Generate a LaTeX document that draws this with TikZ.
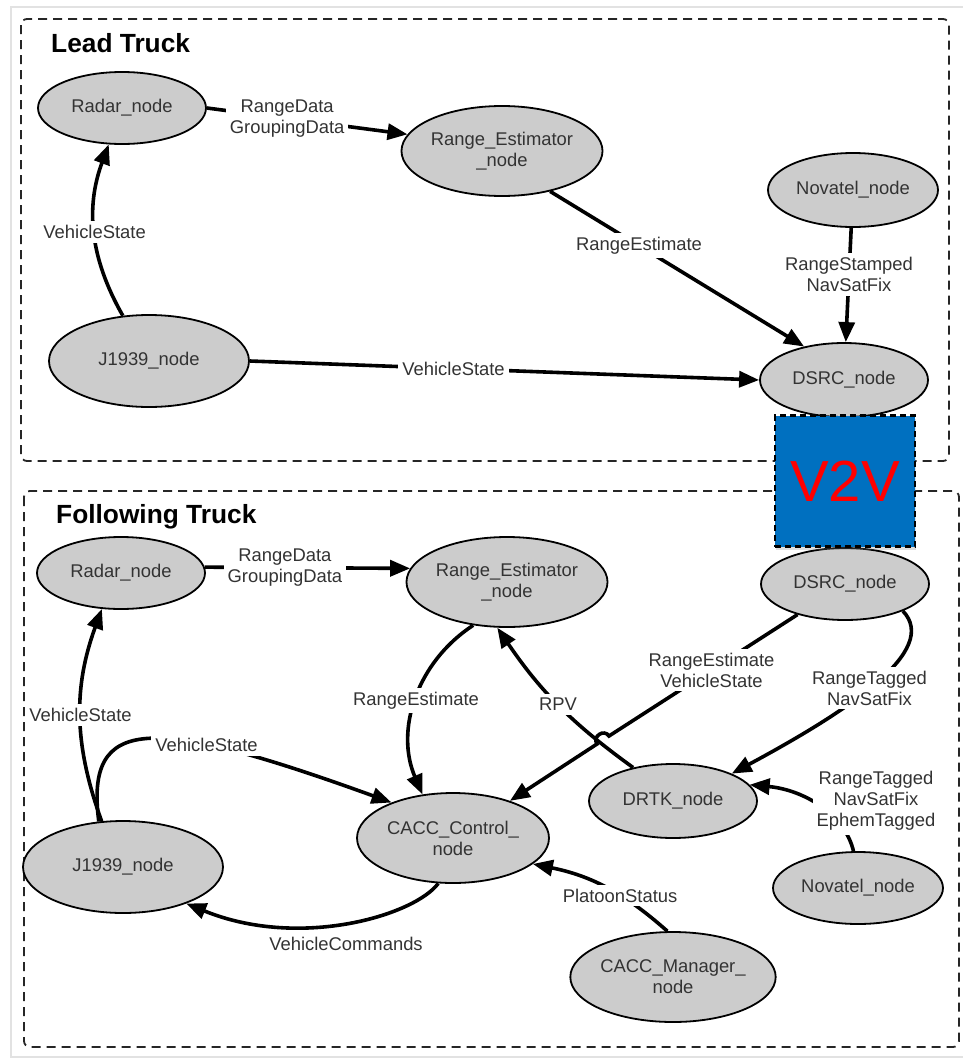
\documentclass[tikz,border=0pt]{standalone}
\usepackage{fontspec}
\setmainfont{Liberation Sans}
\usepackage{tikz}
\usetikzlibrary{positioning,shapes.geometric,arrows.meta,shadows}
\definecolor{nodefill}{HTML}{CCCCCC}
\definecolor{nodetext}{HTML}{333333}
\definecolor{linkblue}{HTML}{0070C0}
\definecolor{outerframe}{HTML}{E2E2E2}
\newcommand{\lblsize}{\fontsize{18.4}{21}\selectfont}
\tikzset{
  nd/.style 2 args={ellipse,draw=black,line width=1.8pt,fill=nodefill,text=nodetext,
    align=center,inner sep=0pt,font=\lblsize,minimum width=#1pt,minimum height=#2pt},
  lbl/.style={fill=white,inner sep=4pt,align=center,text=nodetext,font=\lblsize},
  fl/.style={-{Triangle[length=20pt,width=16pt]},line width=3.6pt,draw=black},
  grp/.style={draw=black!85,line width=1.8pt,dash pattern=on 9pt off 6pt,rounded corners=6pt},
  ttl/.style={anchor=west,inner sep=0pt,font=\bfseries\fontsize{26.3}{30}\selectfont},
  vv/.style={rectangle,draw=black,line width=2.5pt,dash pattern=on 6pt off 4pt,fill=linkblue,
    text=red,minimum width=140pt,minimum height=131pt,font=\fontsize{58}{60}\selectfont,
    drop shadow={opacity=0.25,shadow xshift=1pt,shadow yshift=-3pt}},
}
\begin{document}
\begin{tikzpicture}[x=1pt,y=-1pt]
  \useasboundingbox (0,0) rectangle (962,1060);
  \draw[outerframe,line width=1.5pt] (11,7) rectangle (975,1057);
  \draw[grp] (21,19) rectangle (949,461);
  \draw[grp] (24,491) rectangle (959,1047);
  \node[ttl] (tl) at (51,43) {Lead Truck};
  \node[ttl] (tf) at (56,517) {Following Truck};

  % lead truck
  \node[nd={168}{72}] (lr) at (122,108) {Radar\_node};
  \node[nd={200}{90}] (le) at (502,151) {Range\_Estimator\\\_node};
  \node[nd={170}{74}] (ln) at (853,190) {Novatel\_node};
  \node[nd={200}{92}] (lj) at (149,361) {J1939\_node};
  \node[nd={168}{74}] (ld) at (844,380) {DSRC\_node};

  \draw[fl] (lr.east) -- node[lbl,pos=0.4]{RangeData\\GroupingData} (le.170);
  \draw[fl] (lj.120) to[bend left=25] node[lbl]{VehicleState} (lr.250);
  \draw[fl] (le.320) -- node[lbl,pos=0.35]{RangeEstimate} (ld.140);
  \draw[fl] (ln) -- node[lbl,pos=0.41]{RangeStamped\\NavSatFix} (ld);
  \draw[fl] (lj.east) -- node[lbl,pos=0.4]{VehicleState} (ld.west);

  % following truck
  \node[nd={168}{72}] (fr) at (121,573) {Radar\_node};
  \node[nd={200}{90}] (fe) at (507,582) {Range\_Estimator\\\_node};
  \node[nd={168}{72}] (fd) at (845,584) {DSRC\_node};
  \node[nd={200}{92}] (fj) at (123,867) {J1939\_node};
  \node[nd={192}{90}] (fc) at (453,838) {CACC\_Control\_\\node};
  \node[nd={168}{74}] (fk) at (673,801) {DRTK\_node};
  \node[nd={170}{72}] (fn) at (858,888) {Novatel\_node};
  \node[nd={200}{90}] (fm) at (673,977) {CACC\_Manager\_\\node};
  \coordinate (hopA) at (609,736);
  \coordinate (hopB) at (597,744);

  \draw[fl] (fr.4) -- node[lbl,pos=0.39]{RangeData\\GroupingData} (fe.172);
  \draw[fl] (fj.115) to[bend left=20] node[lbl]{VehicleState} (fr.242);
  \draw[fl] (fj.118) .. controls (85,715) and (150,715) .. node[lbl,pos=0.67]{VehicleState} (fc.150);
  \draw[fl] (fe.232) to[bend right=40] node[lbl]{RangeEstimate} (fc.125);
  \draw[fl] (fk.140) to[bend left=10] node[lbl]{RPV} (fe.258);
  \draw[fl] (fd) -- node[lbl,pos=0.456]{RangeEstimate\\VehicleState} (hopA)
    to[bend right=90,looseness=1.6] (hopB) -- (fc);
  \draw[fl] (fd.335) .. controls (940,650) and (850,710) .. node[lbl,pos=0.53]{RangeTagged\\NavSatFix} (fk.25);
  \draw[fl] (fn.97) .. controls (845,815) and (805,790) .. (fk.12);
  \draw[fl] (fm.97) to[bend right=15] node[lbl,pos=0.38]{PlatoonStatus} (fc.342);
  \draw[fl] (fc.252) .. controls (415,915) and (300,950) .. (fj.330);
  \node[lbl] (tg) at (876,801) {RangeTagged\\NavSatFix\\EphemTagged};
  \node[lbl] (vc) at (346,944) {VehicleCommands};

  \node[vv] (v2v) at (845,481) {V2V};
\end{tikzpicture}
\end{document}
